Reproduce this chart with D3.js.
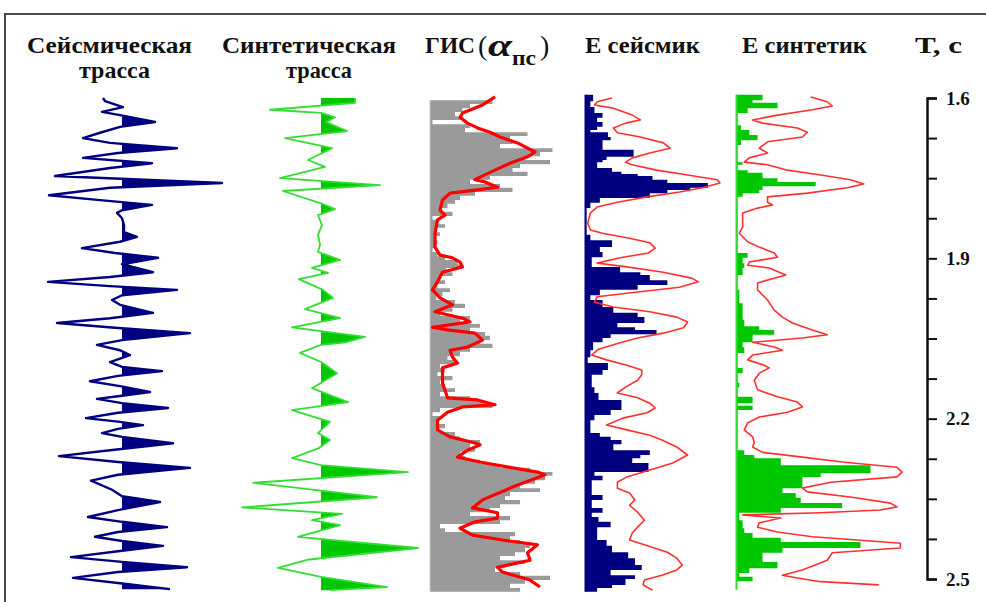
<!DOCTYPE html>
<html><head><meta charset="utf-8">
<script src="https://cdn.jsdelivr.net/npm/d3@7"></script>
<style>body{margin:0;background:#fff;}svg{display:block;}</style>
</head><body>
<svg id="c" width="986" height="602"></svg>
<script>
// ---------------- DATA ----------------
const titles = ["Сейсмическая", "трасса", "Синтетическая", "трасса", "ГИС", "α", "пс", "Е сейсмик", "Е синтетик", "Т, с"];
const timeTicks = [1.6, 1.675, 1.75, 1.825, 1.9, 1.975, 2.05, 2.125, 2.2, 2.275, 2.35, 2.425, 2.5];
const timeLabels = [1.6, 1.9, 2.2, 2.5];

// seismic trace: [time s, amplitude]
const seismic = [[1.600,-0.19],[1.606,-0.17],[1.617,0.01],[1.626,-0.20],[1.632,-0.02],[1.645,0.33],[1.654,-0.02],[1.665,-0.22],[1.675,-0.39],[1.684,-0.12],[1.694,0.55],[1.703,-0.04],[1.712,-0.39],[1.722,0.30],[1.731,-0.12],[1.746,-0.67],[1.759,1.00],[1.768,-0.12],[1.782,-0.73],[1.791,-0.22],[1.800,0.30],[1.810,0.00],[1.815,-0.05],[1.825,0.00],[1.838,0.02],[1.851,0.02],[1.860,0.15],[1.869,-0.02],[1.881,-0.40],[1.890,-0.07],[1.899,0.36],[1.911,0.00],[1.926,0.31],[1.935,-0.12],[1.944,-0.74],[1.952,-0.12],[1.959,0.55],[1.969,0.00],[1.978,-0.10],[1.987,-0.02],[2.002,0.31],[2.012,-0.12],[2.021,-0.65],[2.030,-0.07],[2.040,0.68],[2.053,0.00],[2.062,-0.25],[2.072,-0.02],[2.081,0.08],[2.094,-0.12],[2.103,0.00],[2.111,0.40],[2.120,-0.04],[2.130,-0.32],[2.139,-0.02],[2.150,0.28],[2.158,-0.04],[2.163,-0.25],[2.171,0.00],[2.180,0.46],[2.189,-0.04],[2.199,-0.36],[2.206,-0.02],[2.212,0.21],[2.219,-0.04],[2.227,-0.20],[2.234,0.00],[2.246,0.51],[2.259,-0.12],[2.270,-0.63],[2.281,-0.04],[2.292,0.68],[2.305,-0.04],[2.316,-0.31],[2.333,-0.10],[2.345,0.00],[2.356,0.38],[2.371,-0.04],[2.384,-0.34],[2.393,0.00],[2.403,0.45],[2.412,-0.04],[2.421,-0.27],[2.429,0.00],[2.438,0.41],[2.448,-0.04],[2.459,-0.51],[2.468,0.00],[2.478,0.65],[2.487,-0.04],[2.498,-0.49],[2.508,-0.02],[2.519,0.48]];

// synthetic trace
const synthetic = [[1.600,0.34],[1.609,0.34],[1.622,-0.51],[1.628,0.00],[1.636,0.14],[1.645,0.05],[1.662,0.26],[1.675,-0.36],[1.694,0.11],[1.716,-0.13],[1.729,0.04],[1.750,-0.41],[1.763,0.59],[1.774,-0.38],[1.797,0.00],[1.808,0.14],[1.819,-0.03],[1.838,0.01],[1.856,-0.03],[1.875,-0.01],[1.888,-0.03],[1.903,0.19],[1.918,-0.09],[1.927,0.07],[1.939,-0.22],[1.959,0.02],[1.974,0.12],[1.995,-0.16],[2.012,0.19],[2.029,-0.29],[2.047,0.44],[2.057,0.25],[2.062,0.00],[2.077,-0.21],[2.094,0.00],[2.115,0.16],[2.143,-0.09],[2.169,0.27],[2.184,-0.29],[2.206,0.09],[2.227,-0.03],[2.240,0.09],[2.255,-0.02],[2.274,-0.29],[2.287,0.00],[2.300,0.87],[2.320,-0.68],[2.347,0.56],[2.366,-0.79],[2.378,0.21],[2.390,-0.09],[2.399,0.19],[2.421,-0.23],[2.442,0.97],[2.464,-0.14],[2.479,-0.43],[2.496,0.00],[2.515,0.66],[2.521,0.09]];

// GIS log (gray bars): sample top times and values
const gisT = [1.604,1.611,1.619,1.626,1.634,1.641,1.649,1.656,1.664,1.671,1.679,1.686,1.694,1.701,1.709,1.716,1.724,1.731,1.738,1.746,1.753,1.761,1.768,1.776,1.783,1.791,1.798,1.806,1.813,1.821,1.828,1.836,1.843,1.851,1.858,1.866,1.873,1.881,1.888,1.896,1.903,1.911,1.918,1.926,1.933,1.941,1.948,1.956,1.963,1.971,1.978,1.985,1.993,2.000,2.008,2.015,2.023,2.030,2.038,2.045,2.053,2.060,2.068,2.075,2.083,2.090,2.098,2.105,2.113,2.120,2.128,2.135,2.143,2.150,2.158,2.165,2.173,2.180,2.188,2.195,2.203,2.210,2.218,2.225,2.233,2.240,2.247,2.255,2.262,2.270,2.277,2.285,2.292,2.300,2.307,2.315,2.322,2.330,2.337,2.345,2.352,2.360,2.367,2.375,2.382,2.390,2.397,2.405,2.412,2.420,2.427,2.435,2.442,2.450,2.457,2.465,2.472,2.480,2.487,2.494,2.502,2.509,2.517,2.524];
const gisV = [0.50,0.32,0.26,0.20,0.26,0.02,0.32,0.28,0.78,0.64,0.66,0.56,0.98,0.88,0.76,0.96,0.72,0.66,0.78,0.48,0.32,0.56,0.66,0.36,0.24,0.20,0.14,0.08,0.18,0.02,0.06,0.12,0.04,0.08,0.03,0.06,0.04,0.02,0.06,0.12,0.22,0.26,0.13,0.18,0.08,0.12,0.06,0.16,0.10,0.05,0.20,0.28,0.18,0.08,0.32,0.24,0.40,0.32,0.44,0.48,0.40,0.50,0.32,0.24,0.14,0.20,0.08,0.12,0.06,0.18,0.08,0.12,0.20,0.08,0.32,0.44,0.50,0.08,0.02,0.08,0.05,0.12,0.06,0.20,0.24,0.40,0.32,0.36,0.24,0.28,0.40,0.56,0.80,0.98,0.92,0.84,0.72,0.88,0.64,0.60,0.72,0.56,0.48,0.32,0.64,0.56,0.08,0.12,0.68,0.64,0.72,0.80,0.76,0.68,0.56,0.76,0.60,0.52,0.72,0.96,0.76,0.64,0.72,0];

// alpha_ps curve
const alphaPs = [[1.598,0.52],[1.613,0.42],[1.628,0.26],[1.636,0.24],[1.647,0.30],[1.656,0.38],[1.664,0.48],[1.673,0.56],[1.684,0.70],[1.701,0.84],[1.710,0.78],[1.722,0.64],[1.735,0.52],[1.748,0.40],[1.753,0.36],[1.757,0.44],[1.767,0.54],[1.772,0.38],[1.778,0.16],[1.791,0.10],[1.810,0.08],[1.819,0.12],[1.828,0.06],[1.853,0.04],[1.879,0.04],[1.894,0.08],[1.899,0.18],[1.907,0.24],[1.916,0.26],[1.926,0.10],[1.944,0.06],[1.959,0.02],[1.974,0.08],[1.987,0.18],[2.000,0.04],[2.012,0.26],[2.019,0.32],[2.029,0.02],[2.034,0.14],[2.040,0.36],[2.053,0.42],[2.066,0.30],[2.072,0.16],[2.085,0.18],[2.096,0.22],[2.105,0.10],[2.133,0.10],[2.161,0.14],[2.165,0.38],[2.174,0.52],[2.178,0.26],[2.188,0.14],[2.203,0.06],[2.221,0.06],[2.234,0.16],[2.244,0.34],[2.249,0.40],[2.259,0.30],[2.272,0.22],[2.281,0.40],[2.291,0.64],[2.300,0.86],[2.305,0.92],[2.328,0.66],[2.352,0.42],[2.367,0.34],[2.376,0.54],[2.386,0.54],[2.393,0.36],[2.405,0.24],[2.418,0.34],[2.427,0.58],[2.436,0.86],[2.451,0.78],[2.465,0.80],[2.478,0.54],[2.487,0.58],[2.502,0.80],[2.515,0.88]];

// E seismic energy bars [top time, value]; last entry closes the log
const eSeisBars = [[1.594,0.06],[1.606,0.04],[1.617,0.07],[1.628,0.13],[1.637,0.09],[1.645,0.13],[1.654,0.09],[1.660,0.04],[1.664,0.17],[1.673,0.19],[1.679,0.13],[1.697,0.36],[1.710,0.16],[1.716,0.13],[1.720,0.09],[1.731,0.20],[1.738,0.27],[1.742,0.39],[1.746,0.50],[1.753,0.61],[1.759,0.91],[1.768,0.78],[1.772,0.61],[1.778,0.48],[1.787,0.11],[1.796,0.04],[1.806,0.01],[1.856,0.04],[1.866,0.20],[1.879,0.11],[1.888,0.13],[1.898,0.05],[1.916,0.26],[1.926,0.41],[1.931,0.48],[1.941,0.61],[1.950,0.39],[1.959,0.11],[1.969,0.04],[1.978,0.13],[1.991,0.21],[2.002,0.39],[2.010,0.44],[2.021,0.24],[2.029,0.37],[2.034,0.53],[2.042,0.19],[2.049,0.13],[2.057,0.06],[2.072,0.04],[2.085,0.02],[2.096,0.17],[2.109,0.13],[2.118,0.05],[2.141,0.07],[2.152,0.10],[2.165,0.27],[2.184,0.19],[2.193,0.07],[2.203,0.04],[2.227,0.11],[2.234,0.19],[2.240,0.27],[2.248,0.21],[2.259,0.48],[2.268,0.41],[2.274,0.35],[2.283,0.47],[2.300,0.07],[2.307,0.13],[2.315,0.05],[2.343,0.13],[2.352,0.05],[2.367,0.13],[2.376,0.05],[2.384,0.10],[2.393,0.19],[2.403,0.09],[2.427,0.16],[2.438,0.20],[2.450,0.32],[2.461,0.37],[2.474,0.42],[2.483,0.19],[2.493,0.37],[2.500,0.30],[2.511,0.20],[2.517,0.09],[2.524,0]];

const eSeisCurve = [[1.600,0.20],[1.607,0.09],[1.613,0.07],[1.619,0.21],[1.632,0.35],[1.641,0.41],[1.647,0.30],[1.656,0.21],[1.665,0.24],[1.673,0.41],[1.684,0.58],[1.694,0.63],[1.703,0.48],[1.712,0.35],[1.720,0.30],[1.725,0.35],[1.735,0.53],[1.744,0.76],[1.753,0.98],[1.759,1.00],[1.768,0.87],[1.776,0.70],[1.785,0.46],[1.795,0.24],[1.804,0.09],[1.815,0.04],[1.834,0.02],[1.847,0.04],[1.853,0.13],[1.862,0.32],[1.871,0.48],[1.881,0.52],[1.890,0.47],[1.899,0.26],[1.909,0.09],[1.916,0.31],[1.926,0.58],[1.937,0.79],[1.944,0.84],[1.954,0.70],[1.963,0.39],[1.972,0.09],[1.982,0.07],[1.991,0.21],[2.000,0.48],[2.010,0.68],[2.019,0.76],[2.030,0.73],[2.040,0.58],[2.049,0.39],[2.058,0.26],[2.070,0.10],[2.081,0.05],[2.090,0.16],[2.100,0.31],[2.109,0.42],[2.118,0.42],[2.128,0.39],[2.141,0.30],[2.152,0.24],[2.161,0.39],[2.171,0.48],[2.180,0.52],[2.189,0.46],[2.199,0.28],[2.212,0.16],[2.221,0.31],[2.231,0.48],[2.240,0.57],[2.253,0.68],[2.268,0.76],[2.283,0.65],[2.296,0.48],[2.309,0.31],[2.319,0.24],[2.330,0.24],[2.339,0.33],[2.352,0.37],[2.362,0.33],[2.375,0.39],[2.390,0.44],[2.403,0.39],[2.414,0.35],[2.427,0.33],[2.436,0.44],[2.450,0.61],[2.461,0.68],[2.474,0.72],[2.483,0.68],[2.493,0.57],[2.502,0.44],[2.511,0.43],[2.521,0.50]];

// E synthetic energy bars and curve
const eSynBars = [[1.594,0.16],[1.604,0.10],[1.609,0.25],[1.619,0.07],[1.628,0.01],[1.651,0.03],[1.660,0.08],[1.669,0.13],[1.679,0.03],[1.688,0.01],[1.720,0.04],[1.725,0.01],[1.735,0.07],[1.740,0.16],[1.750,0.25],[1.757,0.48],[1.765,0.16],[1.772,0.14],[1.778,0.04],[1.785,0.01],[1.890,0.07],[1.899,0.04],[1.909,0.05],[1.918,0.04],[1.931,0.01],[1.959,0.02],[1.984,0.04],[2.015,0.05],[2.027,0.14],[2.034,0.23],[2.043,0.10],[2.057,0.04],[2.066,0.05],[2.077,0.01],[2.105,0.04],[2.115,0.01],[2.133,0.02],[2.141,0.01],[2.159,0.10],[2.171,0.01],[2.176,0.10],[2.184,0.01],[2.259,0.05],[2.268,0.11],[2.274,0.27],[2.287,0.81],[2.302,0.51],[2.309,0.40],[2.330,0.28],[2.339,0.36],[2.348,0.39],[2.358,0.64],[2.367,0.27],[2.376,0.02],[2.390,0.04],[2.405,0.05],[2.414,0.10],[2.423,0.27],[2.431,0.75],[2.442,0.28],[2.451,0.16],[2.468,0.25],[2.480,0.08],[2.489,0.02],[2.496,0.10],[2.504,0]];

const eSynCurve = [[1.598,0.45],[1.607,0.55],[1.615,0.58],[1.622,0.46],[1.632,0.25],[1.641,0.10],[1.647,0.16],[1.656,0.37],[1.664,0.43],[1.673,0.40],[1.682,0.19],[1.694,0.14],[1.703,0.19],[1.712,0.08],[1.720,0.05],[1.725,0.19],[1.735,0.31],[1.744,0.51],[1.753,0.69],[1.761,0.77],[1.768,0.67],[1.778,0.43],[1.785,0.19],[1.795,0.19],[1.800,0.22],[1.806,0.13],[1.815,0.04],[1.825,0.04],[1.841,0.04],[1.853,0.02],[1.869,0.07],[1.879,0.14],[1.890,0.23],[1.898,0.25],[1.907,0.08],[1.913,0.07],[1.918,0.20],[1.931,0.30],[1.946,0.13],[1.959,0.13],[1.978,0.19],[1.997,0.23],[2.010,0.28],[2.021,0.34],[2.034,0.46],[2.043,0.55],[2.049,0.40],[2.057,0.10],[2.066,0.23],[2.072,0.28],[2.081,0.10],[2.090,0.07],[2.100,0.17],[2.105,0.20],[2.115,0.14],[2.128,0.11],[2.146,0.13],[2.159,0.25],[2.169,0.37],[2.178,0.40],[2.188,0.31],[2.197,0.14],[2.208,0.07],[2.221,0.05],[2.234,0.10],[2.244,0.11],[2.253,0.10],[2.263,0.16],[2.272,0.40],[2.281,0.64],[2.291,0.97],[2.300,1.00],[2.309,0.97],[2.319,0.57],[2.330,0.40],[2.337,0.43],[2.347,0.70],[2.358,0.93],[2.365,0.97],[2.371,0.87],[2.376,0.51],[2.380,0.04],[2.386,0.27],[2.395,0.14],[2.403,0.13],[2.412,0.25],[2.421,0.46],[2.427,0.73],[2.433,0.99],[2.442,0.99],[2.451,0.58],[2.465,0.55],[2.483,0.40],[2.493,0.28],[2.498,0.37],[2.505,0.51],[2.511,0.86]];

// ---------------- DRAWING ----------------
const svg = d3.select("#c");
const FONT = "'Liberation Serif','Times New Roman',serif";
const NAVY = "#000080", GREEN = "#00c800", LGREEN = "#33dd33", RED = "#ff0000", PINK = "#ff3030", GRAY = "#9a9a9a";

const y = d3.scaleLinear().domain([1.6, 2.5]).range([98, 579]);
const xSeis = d3.scaleLinear().domain([-1, 1]).range([22, 222]);
const xSyn = d3.scaleLinear().domain([-1, 1]).range([221, 421]);
const xGis = d3.scaleLinear().domain([0, 1]).range([430, 555]);
const xESeis = d3.scaleLinear().domain([0, 1]).range([585, 720]);
const xESyn = d3.scaleLinear().domain([0, 1]).range([736, 902]);

// frame
svg.append("path").attr("d", "M5,602V14H986").attr("fill", "none").attr("stroke", "#4a4a4a").attr("stroke-width", 2);

const defs = svg.append("defs");
function wiggle(data, xs, lineColor, fillColor, lw, id) {
  const x0 = xs(0);
  defs.append("clipPath").attr("id", id).append("rect")
    .attr("x", x0).attr("y", 0).attr("width", 300).attr("height", 602);
  svg.append("path").datum(data).attr("clip-path", `url(#${id})`).attr("fill", fillColor)
    .attr("d", d3.area().y(d => y(d[0])).x0(x0).x1(d => xs(d[1])));
  svg.append("path").datum(data).attr("fill", "none").attr("stroke", lineColor)
    .attr("stroke-width", lw).attr("stroke-linejoin", "round")
    .attr("d", d3.line().x(d => xs(d[1])).y(d => y(d[0])));
}
wiggle(seismic, xSeis, NAVY, NAVY, 2.4, "clipSeis");
wiggle(synthetic, xSyn, LGREEN, GREEN, 1.8, "clipSyn");

function stepBars(data, xs, color) {
  svg.append("path").datum(data).attr("fill", color)
    .attr("d", d3.area().curve(d3.curveStepBefore).y(d => y(d[0])).x0(xs(0)).x1(d => xs(d[1])));
}
// GIS gray bars
stepBars(gisT.map((t, i) => [t, gisV[i]]), xGis, GRAY);
svg.append("line").attr("x1", xGis(0)).attr("x2", xGis(0)).attr("y1", y(gisT[0])).attr("y2", y(gisT[gisT.length - 1]))
  .attr("stroke", "#c8c8c8").attr("stroke-width", 1);
svg.append("path").datum(alphaPs).attr("fill", "none").attr("stroke", RED).attr("stroke-width", 3.2)
  .attr("stroke-linejoin", "round").attr("d", d3.line().x(d => xGis(d[1])).y(d => y(d[0])));

// E seismic
stepBars(eSeisBars, xESeis, NAVY);
svg.append("line").attr("x1", xESeis(0) + 0.5).attr("x2", xESeis(0) + 0.5)
  .attr("y1", y(eSeisBars[0][0])).attr("y2", y(eSeisBars[eSeisBars.length - 1][0]))
  .attr("stroke", NAVY).attr("stroke-width", 2);
svg.append("path").datum(eSeisCurve).attr("fill", "none").attr("stroke", PINK).attr("stroke-width", 1.6)
  .attr("stroke-linejoin", "round").attr("d", d3.line().x(d => xESeis(d[1])).y(d => y(d[0])));

// E synthetic
stepBars(eSynBars, xESyn, GREEN);
svg.append("line").attr("x1", xESyn(0) + 0.5).attr("x2", xESyn(0) + 0.5)
  .attr("y1", y(eSynBars[0][0])).attr("y2", y(2.52))
  .attr("stroke", LGREEN).attr("stroke-width", 2);
svg.append("path").datum(eSynCurve).attr("fill", "none").attr("stroke", PINK).attr("stroke-width", 1.6)
  .attr("stroke-linejoin", "round").attr("d", d3.line().x(d => xESyn(d[1])).y(d => y(d[0])));

// time axis
const axis = d3.axisRight(y).tickValues(timeTicks).tickSize(10).tickPadding(9)
  .tickFormat(d => timeLabels.includes(d) ? d.toFixed(1) : "");
const gA = svg.append("g").attr("transform", "translate(927,0)").call(axis);
gA.select(".domain").attr("stroke", "#111").attr("stroke-width", 2.5);
gA.selectAll(".tick line").attr("stroke", "#111").attr("stroke-width", 2);
gA.selectAll(".tick text").attr("font-family", FONT).attr("font-weight", "bold")
  .attr("font-size", 19).attr("fill", "#111");

// titles
function title(txt, x, yb, len, size, opts = {}) {
  const t = svg.append("text").attr("x", x).attr("y", yb).text(txt)
    .attr("font-family", FONT).attr("font-weight", opts.weight || "bold")
    .attr("font-size", size).attr("fill", "#111");
  if (opts.italic) t.attr("font-style", "italic");
  if (len) t.attr("textLength", len).attr("lengthAdjust", "spacingAndGlyphs");
  return t;
}
title(titles[0], 27, 53, 165, 23);
title(titles[1], 79, 78, 71, 23);
title(titles[2], 222, 53, 174, 23);
title(titles[3], 286, 78, 66, 23);
title(titles[4], 425, 53, 50, 23);
title("(", 478, 55, null, 28, {weight: "normal"});
title(titles[5], 488, 56, 24, 32, {italic: true});
title(titles[6], 512, 65, 24, 20);
title(")", 540, 55, null, 28, {weight: "normal"});
title(titles[7], 585, 53, 115, 23);
title(titles[8], 742, 53, 125, 23);
title(titles[9], 915, 53, 47, 23);
</script>
</body></html>
